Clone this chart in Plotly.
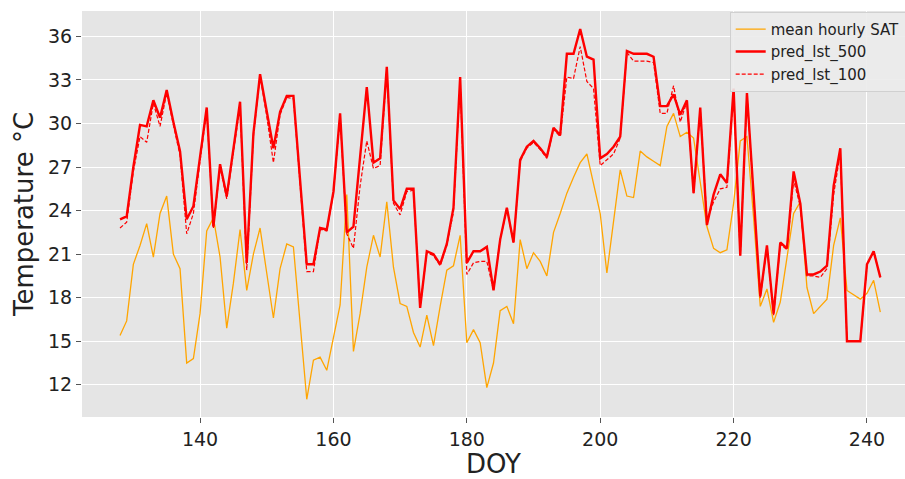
import plotly.graph_objects as go

doy = list(range(128, 243))

mean_hourly_sat = [
    15.4, 16.4, 20.3, 21.6, 23.1, 20.8, 23.8, 25.0, 21.0, 20.0,   # 128-137
    13.5, 13.8, 16.9, 22.6, 23.5, 20.8, 15.9, 19.0, 22.7, 18.5,   # 138-147
    21.0, 22.8, 19.7, 16.6, 20.0, 21.7, 21.5, 16.3, 11.0, 13.7,   # 148-157
    13.9, 13.0, 15.3, 17.5, 25.1, 14.3, 16.9, 20.1, 22.3, 20.8,   # 158-167
    24.6, 20.1, 17.6, 17.4, 15.6, 14.6, 16.8, 14.7, 17.4, 19.9,   # 168-177
    20.2, 22.3, 14.9, 15.8, 14.9, 11.8, 13.5, 17.1, 17.4, 16.2,   # 178-187
    22.0, 20.0, 21.1, 20.5, 19.5, 22.5, 23.8, 25.2, 26.3, 27.3,   # 188-197
    27.9, 25.9, 23.8, 19.7, 23.4, 26.8, 25.0, 24.9, 28.1, 27.7,   # 198-207
    27.4, 27.1, 29.8, 30.7, 29.1, 29.4, 29.0, 26.1, 22.9, 21.4,   # 208-217
    21.1, 21.3, 24.5, 28.8, 29.1, 23.5, 17.4, 18.6, 16.3, 17.7,   # 218-227
    20.7, 23.8, 24.6, 18.7, 16.9, 17.4, 17.9, 21.6, 23.5, 18.5,   # 228-237
    18.2, 17.9, 18.3, 19.2, 17.0                                  # 238-242
]

pred_lst_500 = [
    23.4, 23.6, 27.0, 29.9, 29.8, 31.6, 30.4, 32.3, 30.1, 28.1,
    23.4, 24.3, 27.7, 31.1, 22.9, 27.2, 25.0, 28.2, 31.5, 20.4,
    29.3, 33.4, 30.8, 28.3, 30.8, 31.9, 31.9, 26.0, 20.3, 20.3,
    22.8, 22.7, 25.3, 30.7, 22.5, 22.9, 27.8, 32.5, 27.3, 27.6,
    33.9, 24.7, 24.1, 25.5, 25.5, 17.3, 21.2, 21.0, 20.3, 21.7,
    24.2, 33.2, 20.4, 21.2, 21.2, 21.5, 18.5, 22.0, 24.2, 21.8,
    27.5, 28.4, 28.8, 28.3, 27.7, 29.7, 29.2, 34.8, 34.8, 36.5,
    34.6, 34.4, 27.6, 27.9, 28.4, 29.1, 35.0, 34.8, 34.8, 34.8,
    34.6, 31.2, 31.2, 32.0, 30.6, 31.6, 25.2, 31.1, 23.0, 25.1,
    26.5, 25.9, 32.4, 20.9, 32.1, 25.3, 18.1, 21.6, 16.9, 21.8,
    21.4, 26.7, 24.5, 19.6, 19.6, 19.8, 20.2, 25.7, 28.3, 15.0,
    15.0, 15.0, 20.3, 21.2, 19.4
]

pred_lst_100 = [
    22.8, 23.2, 26.7, 29.1, 28.7, 31.4, 29.8, 32.1, 29.9, 27.8,
    22.4, 23.8, 27.4, 30.9, 22.8, 27.0, 24.8, 27.9, 31.2, 19.9,
    29.1, 33.3, 30.5, 27.3, 30.6, 31.8, 31.7, 25.8, 19.8, 19.8,
    22.7, 22.6, 25.2, 30.5, 22.4, 21.4, 25.7, 28.8, 26.9, 27.1,
    33.7, 24.5, 23.7, 25.3, 25.4, 17.3, 21.1, 20.9, 20.2, 21.6,
    23.9, 33.0, 19.6, 20.4, 20.5, 20.5, 18.5, 22.0, 24.1, 21.8,
    27.4, 28.3, 28.7, 28.2, 27.6, 29.6, 29.1, 33.2, 33.1, 35.3,
    32.9, 32.4, 27.1, 27.5, 27.9, 29.0, 34.9, 34.3, 34.3, 34.3,
    34.2, 30.7, 30.7, 32.6, 30.1, 31.5, 25.2, 31.0, 23.3, 24.6,
    25.5, 25.6, 32.2, 20.9, 32.0, 25.1, 18.0, 21.5, 16.8, 21.7,
    21.3, 26.1, 24.3, 19.5, 19.5, 19.4, 20.0, 25.1, 28.0, 15.0,
    15.0, 15.0, 20.2, 21.2, 19.4
]

x_ticks = [140, 160, 180, 200, 220, 240]
y_ticks = [12, 15, 18, 21, 24, 27, 30, 33, 36]

FONT = "DejaVu Sans"

fig = go.Figure()
fig.add_trace(go.Scatter(x=doy, y=mean_hourly_sat, mode="lines", name="mean hourly SAT",
                         line=dict(color="#FFA500", width=1.3)))
fig.add_trace(go.Scatter(x=doy, y=pred_lst_500, mode="lines", name="pred_lst_500",
                         line=dict(color="#FF0000", width=2.4)))
fig.add_trace(go.Scatter(x=doy, y=pred_lst_100, mode="lines", name="pred_lst_100",
                         line=dict(color="#FF0000", width=1.2, dash="4px,2px")))

fig.update_layout(
    width=905, height=479,
    margin=dict(l=82, r=0, t=11, b=62, autoexpand=False),
    paper_bgcolor="white",
    plot_bgcolor="#E5E5E5",
    font=dict(family=FONT, color="#222222"),
    showlegend=True,
    legend=dict(
        x=0.787, y=0.998, xanchor="left", yanchor="top",
        bgcolor="rgba(235,235,235,0.9)", bordercolor="#D0D0D0", borderwidth=1,
        font=dict(family=FONT, size=15, color="#222222"),
        tracegroupgap=0, itemwidth=30,
    ),
    xaxis=dict(
        range=[122.3, 245.7], tickvals=x_ticks, ticktext=[str(v) for v in x_ticks],
        showgrid=True, gridcolor="white", gridwidth=1.2, zeroline=False,
        ticks="outside", ticklen=5, tickcolor="#555555", tickwidth=1,
        tickfont=dict(family=FONT, size=19, color="#222222"),
        title=dict(text="DOY", font=dict(family=FONT, size=26, color="#222222"), standoff=4),
        showline=False, automargin=False,
    ),
    yaxis=dict(
        range=[9.78, 37.75], tickvals=y_ticks, ticktext=[str(v) for v in y_ticks],
        showgrid=True, gridcolor="white", gridwidth=1.2, zeroline=False,
        ticks="outside", ticklen=5, tickcolor="#555555", tickwidth=1,
        tickfont=dict(family=FONT, size=19, color="#222222"),
        title=dict(text="Temperature °C", font=dict(family=FONT, size=26, color="#222222"), standoff=6),
        showline=False, automargin=False,
    ),
)

fig.write_html(
    "out.html",
    config={"displayModeBar": False},
    post_script="document.body.style.margin='0px';document.body.style.overflow='hidden';",
)
